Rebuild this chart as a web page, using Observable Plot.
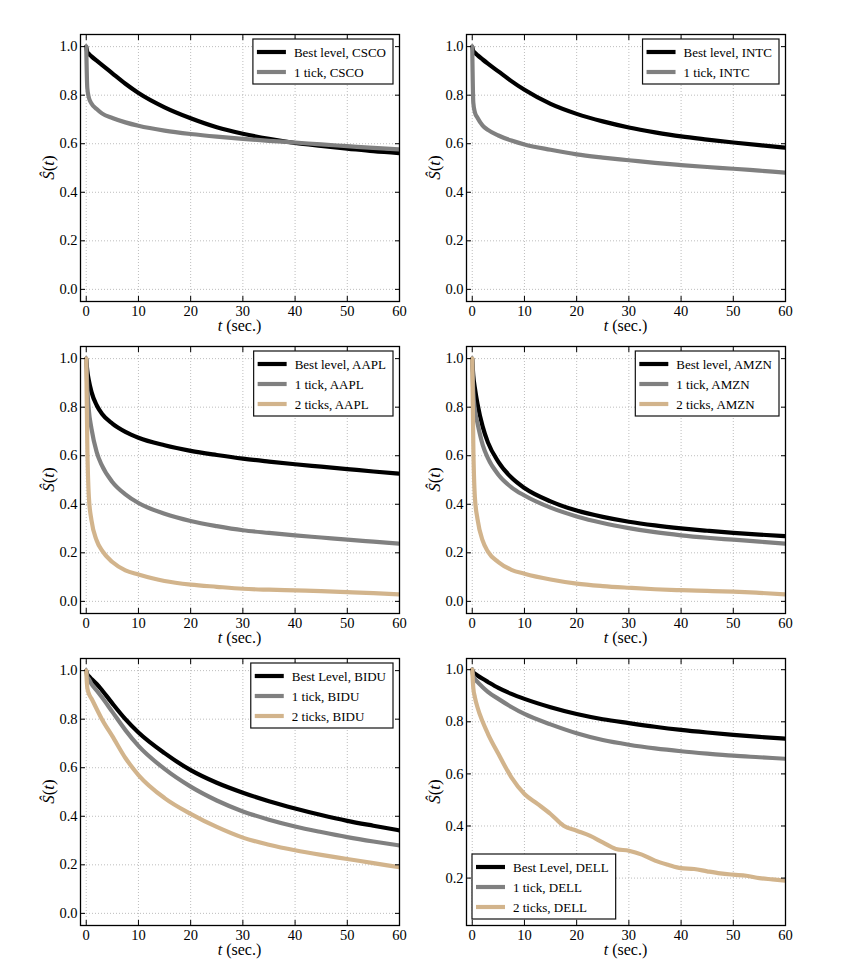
<!DOCTYPE html>
<html>
<head>
<meta charset="utf-8">
<script src="https://cdn.jsdelivr.net/npm/d3@7"></script>
<script src="https://cdn.jsdelivr.net/npm/@observablehq/plot@0.6"></script>
<style>
  body { margin: 0; background: #fff; }
  #fig { position: relative; width: 848px; height: 971px; background: #fff; }
  #fig svg { position: absolute; }
  #fig svg text { font-family: "Liberation Serif", "DejaVu Serif", serif !important; }
</style>
</head>
<body>
<div id="fig"></div>
<script>
// ---------- data ----------
const times = [0, 0.2, 0.5, 1, 2, 3, 5, 7.5, 10, 15, 20, 25, 30, 35, 40, 45, 50, 55, 60];
const timesDell2 = [0, 0.2, 0.5, 1, 2, 3, 5, 7.5, 10, 12.5, 15, 17.5, 20, 22.5, 25, 27.5, 30, 32.5, 35, 37.5, 40, 42.5, 45, 47.5, 50, 52.5, 55, 57.5, 60];

const cscoBest  = [1.0, 0.978, 0.97, 0.96, 0.942, 0.925, 0.89, 0.847, 0.809, 0.75, 0.705, 0.668, 0.641, 0.62, 0.603, 0.591, 0.58, 0.569, 0.561];
const cscoTick1 = [1.0, 0.83, 0.79, 0.766, 0.743, 0.725, 0.706, 0.688, 0.674, 0.654, 0.64, 0.629, 0.62, 0.612, 0.605, 0.597, 0.59, 0.583, 0.577];

const intcBest  = [1.0, 0.982, 0.975, 0.965, 0.947, 0.93, 0.898, 0.858, 0.822, 0.764, 0.723, 0.692, 0.667, 0.647, 0.63, 0.617, 0.605, 0.594, 0.584];
const intcTick1 = [1.0, 0.77, 0.73, 0.707, 0.675, 0.657, 0.634, 0.613, 0.597, 0.575, 0.556, 0.543, 0.532, 0.521, 0.512, 0.504, 0.497, 0.489, 0.481];

const aaplBest  = [1.0, 0.95, 0.91, 0.863, 0.808, 0.773, 0.732, 0.698, 0.674, 0.643, 0.62, 0.603, 0.588, 0.576, 0.565, 0.555, 0.545, 0.535, 0.526];
const aaplTick1 = [1.0, 0.88, 0.787, 0.712, 0.615, 0.56, 0.492, 0.441, 0.405, 0.361, 0.331, 0.31, 0.293, 0.282, 0.272, 0.263, 0.254, 0.246, 0.238];
const aaplTick2 = [1.0, 0.65, 0.43, 0.334, 0.251, 0.21, 0.162, 0.128, 0.111, 0.084, 0.069, 0.06, 0.052, 0.048, 0.045, 0.042, 0.038, 0.034, 0.029];

const amznBest  = [1.0, 0.93, 0.88, 0.815, 0.72, 0.655, 0.575, 0.51, 0.467, 0.412, 0.374, 0.348, 0.328, 0.313, 0.301, 0.291, 0.282, 0.275, 0.269];
const amznTick1 = [1.0, 0.86, 0.79, 0.735, 0.645, 0.59, 0.522, 0.47, 0.436, 0.386, 0.35, 0.323, 0.302, 0.285, 0.272, 0.262, 0.254, 0.246, 0.238];
const amznTick2 = [1.0, 0.65, 0.43, 0.34, 0.25, 0.205, 0.162, 0.13, 0.114, 0.09, 0.073, 0.063, 0.056, 0.05, 0.046, 0.043, 0.04, 0.035, 0.029];

const biduBest  = [1.0, 0.985, 0.977, 0.966, 0.945, 0.92, 0.865, 0.80, 0.745, 0.66, 0.59, 0.538, 0.497, 0.462, 0.432, 0.405, 0.381, 0.361, 0.342];
const biduTick1 = [1.0, 0.975, 0.965, 0.945, 0.918, 0.89, 0.83, 0.755, 0.69, 0.595, 0.522, 0.465, 0.42, 0.386, 0.358, 0.335, 0.314, 0.296, 0.28];
const biduTick2 = [1.0, 0.93, 0.905, 0.885, 0.842, 0.80, 0.73, 0.64, 0.57, 0.475, 0.41, 0.356, 0.312, 0.283, 0.26, 0.241, 0.224, 0.207, 0.19];

const dellBest  = [1.0, 0.99, 0.985, 0.978, 0.965, 0.953, 0.93, 0.907, 0.888, 0.856, 0.83, 0.81, 0.795, 0.781, 0.769, 0.759, 0.75, 0.742, 0.735];
const dellTick1 = [1.0, 0.975, 0.965, 0.953, 0.933, 0.915, 0.888, 0.857, 0.83, 0.79, 0.756, 0.73, 0.712, 0.698, 0.687, 0.678, 0.67, 0.664, 0.658];
const dellTick2 = [1.0, 0.93, 0.895, 0.856, 0.8, 0.754, 0.677, 0.587, 0.523, 0.485, 0.446, 0.401, 0.382, 0.363, 0.337, 0.312, 0.305, 0.29, 0.267, 0.251, 0.238, 0.235, 0.226, 0.218, 0.213, 0.209, 0.2, 0.195, 0.19];

const xTicks = [0, 10, 20, 30, 40, 50, 60];
const yTicksFull = [0, 0.2, 0.4, 0.6, 0.8, 1.0];
const yTicksDell = [0.2, 0.4, 0.6, 0.8, 1.0];

const seriesColors = { best: "#000000", tick1: "#808080", tick2: "#d2b48c" };

const panels = [
  { series: [
      { key: "best",  label: "Best level, CSCO", t: times, s: cscoBest },
      { key: "tick1", label: "1 tick, CSCO",     t: times, s: cscoTick1 } ],
    yDomain: [-0.05, 1.05], yTicks: yTicksFull, legend: "tr", left: 80, top: 34 },
  { series: [
      { key: "best",  label: "Best level, INTC", t: times, s: intcBest },
      { key: "tick1", label: "1 tick, INTC",     t: times, s: intcTick1 } ],
    yDomain: [-0.05, 1.05], yTicks: yTicksFull, legend: "tr", left: 466, top: 34 },
  { series: [
      { key: "best",  label: "Best level, AAPL", t: times, s: aaplBest },
      { key: "tick1", label: "1 tick, AAPL",     t: times, s: aaplTick1 },
      { key: "tick2", label: "2 ticks, AAPL",    t: times, s: aaplTick2 } ],
    yDomain: [-0.05, 1.05], yTicks: yTicksFull, legend: "tr", left: 80, top: 346 },
  { series: [
      { key: "best",  label: "Best level, AMZN", t: times, s: amznBest },
      { key: "tick1", label: "1 tick, AMZN",     t: times, s: amznTick1 },
      { key: "tick2", label: "2 ticks, AMZN",    t: times, s: amznTick2 } ],
    yDomain: [-0.05, 1.05], yTicks: yTicksFull, legend: "tr", left: 466, top: 346 },
  { series: [
      { key: "best",  label: "Best Level, BIDU", t: times, s: biduBest },
      { key: "tick1", label: "1 tick, BIDU",     t: times, s: biduTick1 },
      { key: "tick2", label: "2 ticks, BIDU",    t: times, s: biduTick2 } ],
    yDomain: [-0.05, 1.05], yTicks: yTicksFull, legend: "tr", left: 80, top: 658 },
  { series: [
      { key: "best",  label: "Best Level, DELL", t: times, s: dellBest },
      { key: "tick1", label: "1 tick, DELL",     t: times, s: dellTick1 },
      { key: "tick2", label: "2 ticks, DELL",    t: timesDell2, s: dellTick2 } ],
    yDomain: [0.018, 1.043], yTicks: yTicksDell, legend: "bl", left: 466, top: 658 }
];

// ---------- drawing ----------
const W = 319, H = 267;
const mL = 60, mT = 20, mR = 20, mB = 50;
const FONT = "Liberation Serif, DejaVu Serif, serif";
const fig = document.getElementById("fig");

for (const p of panels) {
  const gridStyle = { stroke: "#b5b5b5", strokeOpacity: 1, strokeWidth: 0.9, strokeDasharray: "1,2" };
  const svg = Plot.plot({
    width: mL + W + mR,
    height: mT + H + mB,
    marginLeft: mL, marginTop: mT, marginRight: mR, marginBottom: mB,
    x: { domain: [-1.1, 60], label: null },
    y: { domain: p.yDomain, label: null },
    style: { fontFamily: FONT, fontSize: "14.5px", background: "transparent", color: "black", overflow: "visible" },
    marks: [
      Plot.gridX(xTicks, gridStyle),
      Plot.gridY(p.yTicks, gridStyle),
      ...p.series.map(s => Plot.line(s.s, { x: s.t, y: s.s, stroke: seriesColors[s.key], strokeWidth: 4.2, clip: true, curve: "monotone-x", strokeLinejoin: "round" })),
      Plot.axisX(xTicks, { anchor: "bottom", tickSize: -5, tickPadding: 9, tickFormat: d => String(d), label: null, fontSize: 14.5 }),
      Plot.axisX(xTicks, { anchor: "top", tickSize: -5, tickFormat: () => "", label: null }),
      Plot.axisY(p.yTicks, { anchor: "left", tickSize: -5, tickPadding: 8, tickFormat: d3.format(".1f"), label: null, fontSize: 14.5 }),
      Plot.axisY(p.yTicks, { anchor: "right", tickSize: -5, tickFormat: () => "", label: null }),
      Plot.frame({ stroke: "black", strokeWidth: 1.3 })
    ]
  });
  svg.setAttribute("font-family", FONT);
  svg.style.left = (p.left - mL) + "px";
  svg.style.top = (p.top - mT) + "px";
  fig.appendChild(svg);

  const g = d3.select(svg);
  // axis labels
  const xl = g.append("text")
    .attr("x", mL + W / 2).attr("y", mT + H + 30)
    .attr("text-anchor", "middle").attr("font-size", 16).attr("font-weight", "normal").attr("fill", "black");
  xl.append("tspan").attr("font-style", "italic").text("t");
  xl.append("tspan").text(" (sec.)");

  const yl = g.append("text")
    .attr("transform", `translate(${mL - 26},${mT + H / 2}) rotate(-90)`)
    .attr("text-anchor", "middle").attr("font-size", 17).attr("font-weight", "normal").attr("fill", "black");
  yl.append("tspan").attr("font-style", "italic").text("Ŝ");
  yl.append("tspan").text("(");
  yl.append("tspan").attr("font-style", "italic").text("t");
  yl.append("tspan").text(")");

  // legend
  const n = p.series.length;
  const boxH = 5 + 20 * n;
  const lg = g.append("g");
  const rect = lg.append("rect").attr("fill", "white").attr("stroke", "#111").attr("stroke-width", 1.2);
  const texts = p.series.map((s) => lg.append("text")
    .attr("font-size", 13).attr("fill", "black").attr("dy", "0.35em")
    .attr("text-anchor", "start").text(s.label));
  const maxW = d3.max(texts, t => t.node().getComputedTextLength());
  const boxW = 41 + maxW + 7;
  let bx, by;
  if (p.legend === "tr") { bx = mL + W - 6 - boxW; by = mT + 5; }
  else { bx = mL + 6; by = mT + H - 6 - boxH; }
  rect.attr("x", bx).attr("y", by).attr("width", boxW).attr("height", boxH);
  p.series.forEach((s, i) => {
    const cy = by + 13 + 20 * i;
    lg.append("line").attr("x1", bx + 4).attr("x2", bx + 33).attr("y1", cy).attr("y2", cy)
      .attr("stroke", seriesColors[s.key]).attr("stroke-width", 4.2);
    texts[i].attr("x", bx + 41).attr("y", cy);
  });
}
</script>
</body>
</html>
